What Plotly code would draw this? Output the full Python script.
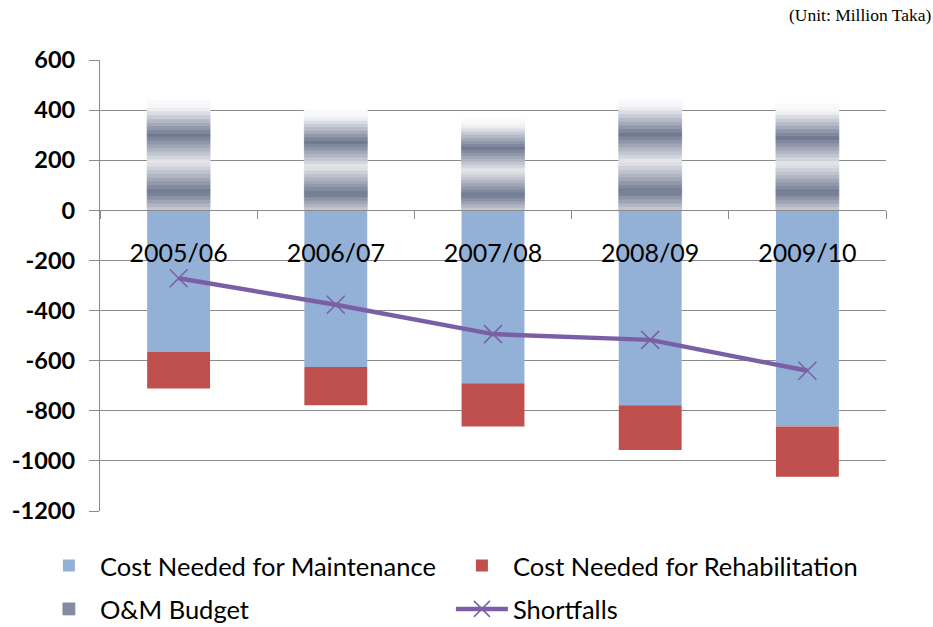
import plotly.graph_objects as go

categories = ["2005/06", "2006/07", "2007/08", "2008/09", "2009/10"]
maintenance = [-565, -625, -690, -778, -863]
rehabilitation = [-146, -153, -173, -179, -200]
om_budget = [440, 400, 365, 445, 425]
shortfalls = [-271, -377, -494, -517, -640]
y_tickvals = [600, 400, 200, 0, -200, -400, -600, -800, -1000, -1200]
y_ticktext = ["600", "400", "200", "0", "-200", "-400", "-600", "-800", "-1000", "-1200"]

# gradient stops for the O&M Budget bars (fraction of bar height -> colour)
stops = [(0.0, (205, 207, 214)), (0.17, (110, 120, 144)), (0.44, (232, 232, 236)),
         (0.685, (110, 120, 144)), (0.93, (245, 245, 248)), (1.0, (252, 252, 253))]
N_SLICES = 30


def grad(f):
    for (f0, c0), (f1, c1) in zip(stops[:-1], stops[1:]):
        if f0 <= f <= f1:
            t = (f - f0) / (f1 - f0)
            return "rgb(%d,%d,%d)" % tuple(round(a + (b - a) * t) for a, b in zip(c0, c1))
    return "rgb(%d,%d,%d)" % stops[-1][1]


BAR_W = 0.4
FONT = "Lato"
fig = go.Figure()
fig.add_trace(go.Bar(x=categories, y=maintenance, name="Cost Needed for Maintenance",
                     marker=dict(color="#93b1d6", line=dict(width=0)), width=BAR_W,
                     legend="legend"))
fig.add_trace(go.Bar(x=categories, y=rehabilitation, name="Cost Needed for Rehabilitation",
                     marker=dict(color="#c0504d", line=dict(width=0)), width=BAR_W,
                     legend="legend"))
for i in range(N_SLICES):
    f = (i + 0.5) / N_SLICES
    c = grad(f)
    fig.add_trace(go.Bar(x=categories, y=[b / N_SLICES for b in om_budget],
                         name="O&M Budget", legendgroup="om", legend="legend2",
                         showlegend=(i == int(N_SLICES * 0.2)),
                         marker=dict(color=c, line=dict(width=0.8, color=c)),
                         width=BAR_W, hoverinfo="skip"))
fig.add_trace(go.Scatter(x=categories, y=shortfalls, name="Shortfalls", mode="lines+markers",
                         line=dict(color="#7b5fa6", width=4.5),
                         marker=dict(symbol="x-thin", size=18, line=dict(color="#7b5fa6", width=1.5)),
                         legend="legend2"))

leg_common = dict(orientation="h", x=-0.079, xanchor="left", yanchor="middle",
                  entrywidth=346, entrywidthmode="pixels", itemwidth=52,
                  font=dict(size=25.5, family=FONT), traceorder="normal",
                  bgcolor="rgba(0,0,0,0)")
fig.update_layout(
    width=933, height=627,
    barmode="relative", bargap=0.6,
    plot_bgcolor="white", paper_bgcolor="white",
    margin=dict(l=100, r=47, t=60, b=116, autoexpand=False),
    font=dict(family=FONT, color="black"),
    showlegend=True,
    legend=dict(y=-0.122, **leg_common),
    legend2=dict(y=-0.218, **leg_common),
    annotations=[dict(text="(Unit: Million Taka)", xref="paper", yref="paper",
                      x=1.06, y=1.0, xanchor="right", yanchor="bottom", yshift=33,
                      showarrow=False,
                      font=dict(family="Liberation Serif", size=17.5, color="black"))],
)
fig.update_yaxes(range=[-1200, 600], tickvals=y_tickvals, ticktext=y_ticktext,
                 showgrid=True, gridcolor="#8a8a8a", gridwidth=1.3,
                 showline=True, linecolor="#8a8a8a", linewidth=1.3,
                 ticks="outside", ticklen=10, tickcolor="#8a8a8a", tickwidth=1.3,
                 ticklabelstandoff=9, zeroline=False,
                 tickfont=dict(size=23.5, family=FONT, weight="bold", color="black"))
fig.update_xaxes(anchor="free", position=1200 / 1800,
                 showline=True, linecolor="#8a8a8a", linewidth=1.3,
                 ticks="outside", tickson="boundaries", ticklen=8, tickcolor="#8a8a8a", tickwidth=1.3,
                 ticklabelstandoff=21, showgrid=False,
                 tickfont=dict(size=25, family=FONT, color="black"))

fig.write_html("out.html")
